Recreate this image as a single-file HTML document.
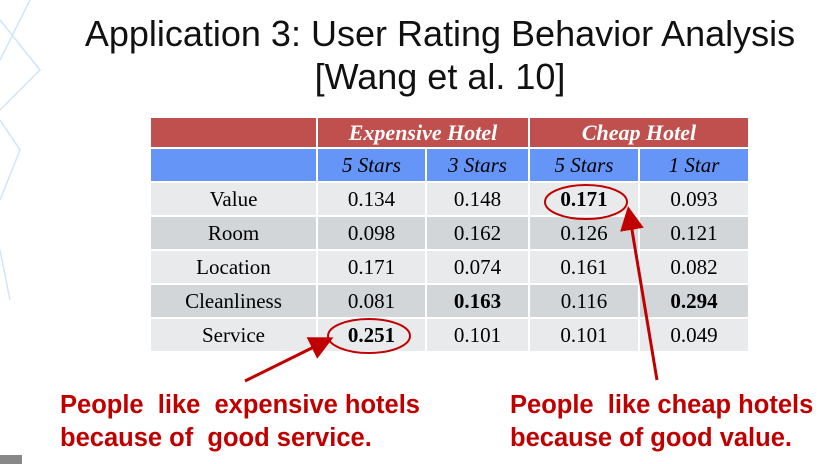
<!DOCTYPE html>
<html><head><meta charset="utf-8"><style>
body{margin:0;width:827px;height:464px;overflow:hidden;background:#fff;position:relative;font-family:"Liberation Sans",sans-serif}
.title{position:absolute;left:0;width:880px;text-align:center;font-size:36px;color:#111;line-height:40px}
table{position:absolute;left:149px;top:116px;border-collapse:collapse;font-family:"Liberation Serif",serif;font-size:21px}
td{border:2px solid #fff;text-align:center;padding:0;height:32px}
.r1 td{background:#c0504d;color:#fff;font-weight:bold;font-style:italic;font-size:22px;height:29px}
.r2 td{background:#6495f7;font-style:italic;height:32px}
.l td{background:#e9eaec}.d td{background:#d3d6d9}
.note{position:absolute;color:#c00000;font-weight:bold;font-size:25.5px;line-height:33px}
</style></head><body>
<svg style="position:absolute;left:0;top:0" width="827" height="464">
<path d="M0 20 L40 70 L0 110 M0 60 L30 0 M0 200 L20 150 L0 120 M0 250 L10 300" stroke="#cfe6f8" stroke-width="1.5" fill="none"/>
<rect x="0" y="455" width="22" height="9" fill="#888"/>
</svg>
<div class="title" style="top:14px">Application 3: User Rating Behavior Analysis</div>
<div class="title" style="top:57px">[Wang et al. 10]</div>
<table>
<colgroup><col style="width:167px"><col style="width:109px"><col style="width:103px"><col style="width:110px"><col style="width:110px"></colgroup>
<tr class="r1"><td></td><td colspan="2">Expensive Hotel</td><td colspan="2">Cheap Hotel</td></tr>
<tr class="r2"><td></td><td>5 Stars</td><td>3 Stars</td><td>5 Stars</td><td>1 Star</td></tr>
<tr class="l"><td>Value</td><td>0.134</td><td>0.148</td><td><b>0.171</b></td><td>0.093</td></tr>
<tr class="d"><td>Room</td><td>0.098</td><td>0.162</td><td>0.126</td><td>0.121</td></tr>
<tr class="l"><td>Location</td><td>0.171</td><td>0.074</td><td>0.161</td><td>0.082</td></tr>
<tr class="d"><td>Cleanliness</td><td>0.081</td><td><b>0.163</b></td><td>0.116</td><td><b>0.294</b></td></tr>
<tr class="l"><td>Service</td><td><b>0.251</b></td><td>0.101</td><td>0.101</td><td>0.049</td></tr>
</table>
<svg style="position:absolute;left:0;top:0" width="827" height="464">
<defs><marker id="ah" markerWidth="8" markerHeight="8" refX="6" refY="4" orient="auto"><path d="M0 0 L8 4 L0 8 Z" fill="#c00000"/></marker></defs>
<ellipse cx="586" cy="202" rx="41" ry="17" fill="none" stroke="#c00000" stroke-width="2"/>
<ellipse cx="369" cy="336" rx="41" ry="17" fill="none" stroke="#c00000" stroke-width="2"/>
<line x1="245" y1="381" x2="328" y2="340" stroke="#c00000" stroke-width="3" marker-end="url(#ah)"/>
<line x1="657" y1="380" x2="629" y2="212" stroke="#c00000" stroke-width="3" marker-end="url(#ah)"/>
</svg>
<div class="note" style="left:60px;top:389px">People&nbsp; like&nbsp; expensive hotels<br>because of&nbsp; good service.</div>
<div class="note" style="left:510px;top:389px">People&nbsp; like cheap hotels<br>because of good value.</div>
</body></html>
